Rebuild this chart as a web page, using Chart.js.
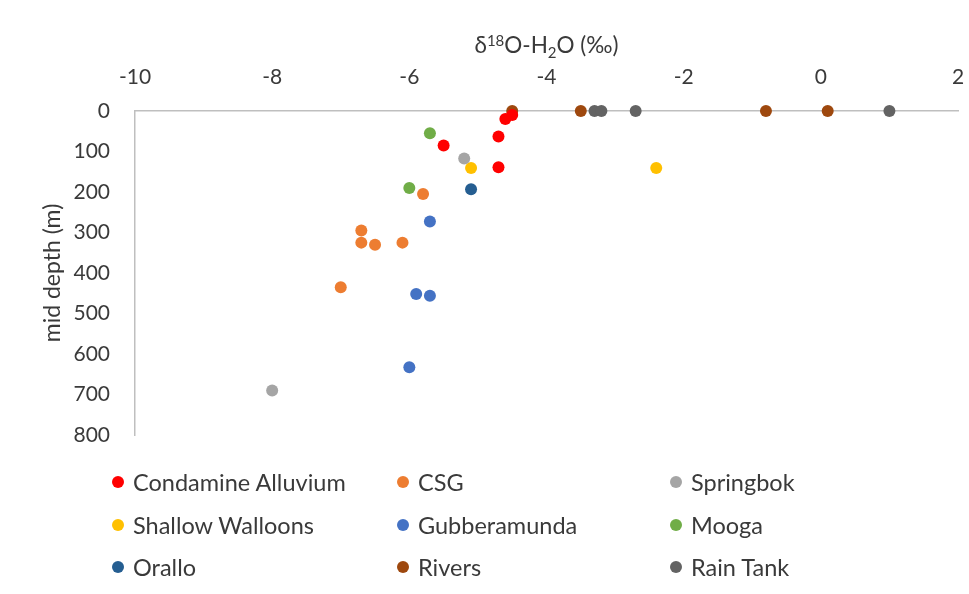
<!DOCTYPE html>
<html>
<head>
<meta charset="utf-8">
<script src="https://cdn.jsdelivr.net/npm/chart.js@4.4.0/dist/chart.umd.min.js"></script>
<style>
  html, body { margin: 0; padding: 0; background: #fff; }
  #wrap { position: relative; width: 969px; height: 594px; }
  #legend { position: absolute; left: 0; top: 461px; width: 969px; height: 130px;
            font-family: Lato, sans-serif; font-size: 23.5px; color: #3a3a3a; }
  .item { position: absolute; display: flex; align-items: center; height: 42px; white-space: nowrap; }
  .dot { width: 12px; height: 12px; border-radius: 50%; margin-right: 9px; }
</style>
</head>
<body>
<div id="wrap">
  <canvas id="chart" width="969" height="594"></canvas>
  <div id="legend"></div>
</div>
<script>
// [δ18O (‰), mid depth (m)]
const condamineAlluvium = [[-4.6, 20], [-4.5, 10], [-5.5, 85], [-4.7, 63], [-4.7, 139]];
const csg = [[-5.8, 205], [-6.7, 295], [-6.7, 325], [-6.5, 330], [-6.1, 325], [-7.0, 435]];
const springbok = [[-5.2, 117], [-8.0, 690]];
const shallowWalloons = [[-5.1, 141], [-2.4, 141]];
const gubberamunda = [[-5.7, 273], [-5.9, 452], [-5.7, 456], [-6.0, 633]];
const mooga = [[-5.7, 55], [-6.0, 190]];
const orallo = [[-5.1, 193]];
const rivers = [[-4.5, 0], [-3.5, 0], [-0.8, 0], [0.1, 0]];
const rainTank = [[-3.3, 0], [-3.2, 0], [-2.7, 0], [1.0, 0]];

const seriesNames = ['Condamine Alluvium', 'CSG', 'Springbok', 'Shallow Walloons', 'Gubberamunda',
                     'Mooga', 'Orallo', 'Rivers', 'Rain Tank'];
const seriesData = [condamineAlluvium, csg, springbok, shallowWalloons, gubberamunda,
                    mooga, orallo, rivers, rainTank];
const seriesColors = ['#FF0000', '#ED7D31', '#A5A5A5', '#FFC000', '#4472C4',
                      '#70AD47', '#255E91', '#9E480E', '#636363'];

const xTicks = [-10, -8, -6, -4, -2, 0, 2];
const yTicks = [0, 100, 200, 300, 400, 500, 600, 700, 800];

const textColor = '#3a3a3a';
const axisColor = '#BFBFBF';
const fontFamily = 'Lato, sans-serif';

// top axis title with superscript / subscript parts
const xTitleParts = [['δ', 0], ['18', 1], ['O-H', 0], ['2', -1], ['O (‰)', 0]];

const richTitle = {
  id: 'richTitle',
  afterDraw(chart) {
    const ctx = chart.ctx;
    const area = chart.chartArea;
    const big = 22.5, small = 15;
    ctx.save();
    ctx.fillStyle = textColor;
    ctx.textBaseline = 'alphabetic';
    let w = 0;
    xTitleParts.forEach(([t, s]) => {
      ctx.font = (s ? small : big) + 'px ' + fontFamily;
      w += ctx.measureText(t).width;
    });
    let x = (area.left + area.right) / 2 - w / 2;
    const y = 53;
    xTitleParts.forEach(([t, s]) => {
      ctx.font = (s ? small : big) + 'px ' + fontFamily;
      const dy = s === 1 ? -7.5 : s === -1 ? 4.5 : 0;
      ctx.fillText(t, x, y + dy);
      x += ctx.measureText(t).width;
    });
    ctx.restore();
  }
};

const ctx = document.getElementById('chart').getContext('2d');

const chart = new Chart(ctx, {
  type: 'scatter',
  data: {
    datasets: seriesNames.map((name, i) => ({
      label: name,
      data: seriesData[i].map(([x, y]) => ({ x, y })),
      backgroundColor: seriesColors[i],
      borderColor: seriesColors[i],
      borderWidth: 0,
      pointRadius: 6,
      pointHoverRadius: 6,
      clip: false
    }))
  },
  options: {
    responsive: false,
    animation: false,
    devicePixelRatio: 1,
    layout: { padding: { left: 0, top: 0, right: 11, bottom: 159 } },
    scales: {
      x: {
        type: 'linear',
        position: 'top',
        min: -10,
        max: 2,
        afterBuildTicks: (scale) => { scale.ticks = xTicks.map(v => ({ value: v })); },
        afterFit: (scale) => {
          scale.height = 111;
          scale.paddingLeft = 0;
          scale.paddingRight = 0;
        },
        grid: { display: false, drawTicks: false },
        border: { display: true, color: axisColor, width: 1.5 },
        ticks: { color: textColor, padding: 21, font: { family: fontFamily, size: 21 } },
        title: { display: false }
      },
      y: {
        type: 'linear',
        reverse: true,
        min: 0,
        max: 800,
        afterBuildTicks: (scale) => { scale.ticks = yTicks.map(v => ({ value: v })); },
        afterFit: (scale) => { scale.width = 135; },
        grid: { display: false, drawTicks: false },
        border: { display: true, color: axisColor, width: 1.5 },
        ticks: { color: textColor, padding: 25, font: { family: fontFamily, size: 21 } },
        title: {
          display: true,
          text: 'mid depth (m)',
          color: textColor,
          padding: { top: 39, bottom: 0 },
          font: { family: fontFamily, size: 23 }
        }
      }
    },
    plugins: {
      legend: { display: false },
      tooltip: { enabled: false }
    }
  },
  plugins: [richTitle]
});

// legend laid out as a 3-column grid
const legendEl = document.getElementById('legend');
const colLeft = [112, 397, 670];
chart.data.datasets.forEach((ds, i) => {
  const item = document.createElement('div');
  item.className = 'item';
  item.style.left = colLeft[i % 3] + 'px';
  item.style.top = (Math.floor(i / 3) * 42.5) + 'px';
  const dot = document.createElement('span');
  dot.className = 'dot';
  dot.style.background = ds.backgroundColor;
  const label = document.createElement('span');
  label.textContent = ds.label;
  item.appendChild(dot);
  item.appendChild(label);
  legendEl.appendChild(item);
});
</script>
</body>
</html>
